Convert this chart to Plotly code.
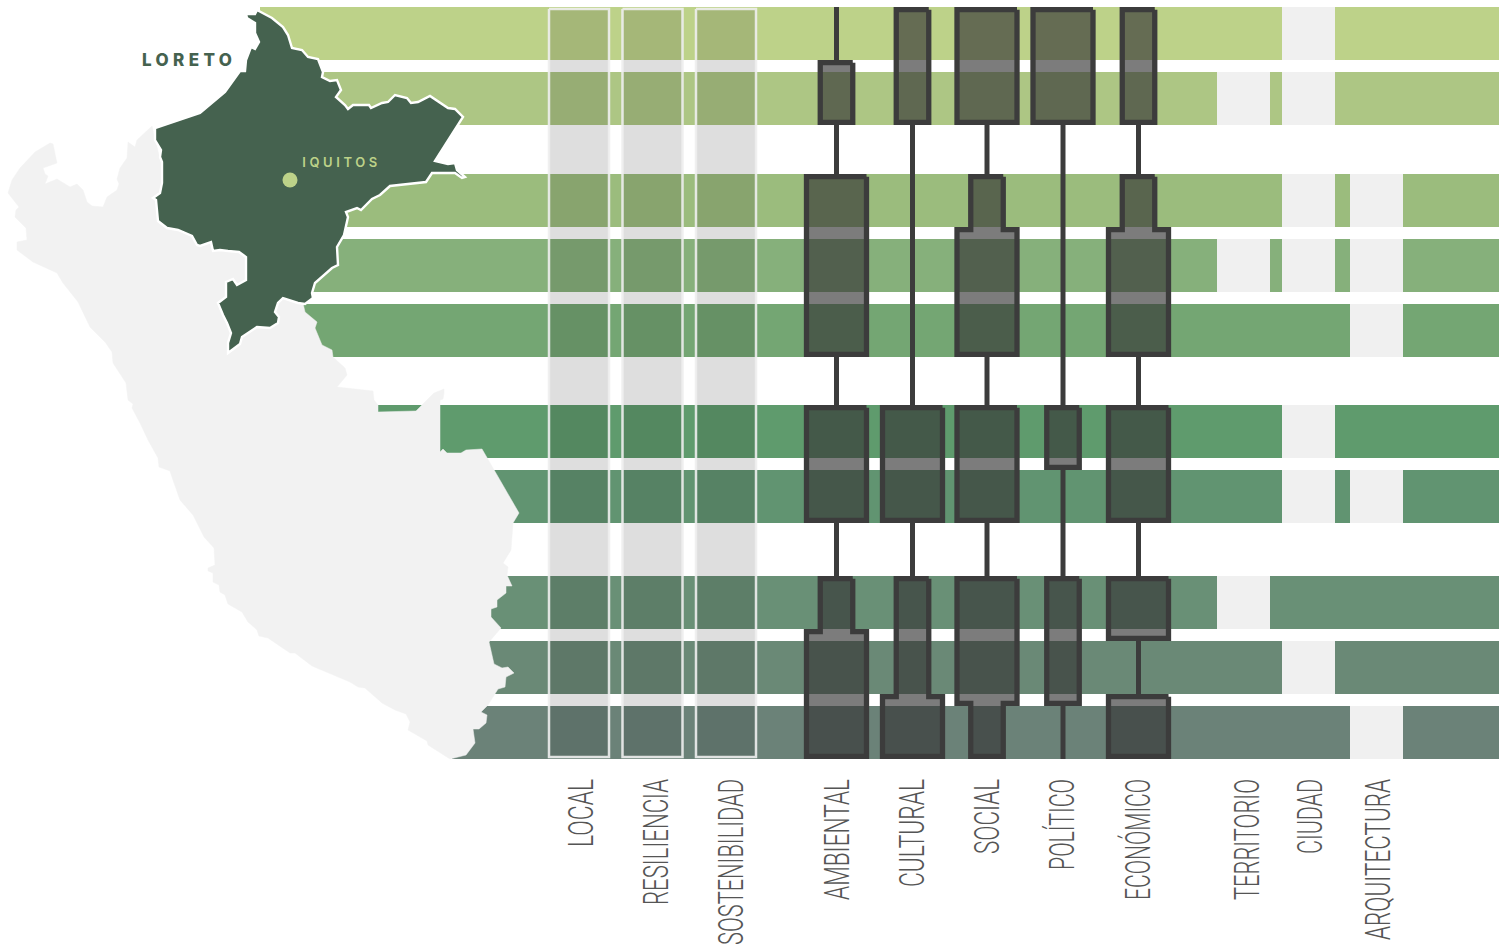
import json
import plotly.graph_objects as go

# ---- data ----
dimensions = ["AMBIENTAL", "CULTURAL", "SOCIAL", "POLÍTICO", "ECONÓMICO"]
# 0 = connector only, 1 = medium, 2 = strong, per row
ambiental = [0, 1, 2, 2, 2, 2, 2, 1, 2, 2]
cultural  = [1, 1, 0, 0, 0, 2, 2, 1, 1, 2]
social    = [2, 2, 1, 2, 2, 2, 2, 2, 2, 1]
politico  = [2, 2, 0, 0, 0, 1, 0, 1, 1, 0]
economico = [1, 1, 1, 2, 2, 2, 2, 2, 0, 2]

# 1 = scale not covered by this row
territorio   = [0, 1, 0, 1, 0, 0, 0, 1, 0, 0]
ciudad       = [1, 1, 1, 1, 0, 1, 1, 0, 1, 0]
arquitectura = [0, 0, 1, 1, 1, 0, 1, 0, 0, 1]

frames = ["LOCAL", "RESILIENCIA", "SOSTENIBILIDAD"]
scales = ["TERRITORIO", "CIUDAD", "ARQUITECTURA"]

peru_x = [8,12,20,35,50,53,57,43,45,48,45,57,70,77,83,87,92,103,107,117,119,117,120,127,128,135,137,152,
          165,230,300,305,317,315,322,332,333,345,347,337,373,374,378,378,416,434,444,444,443,440,440,443,447,461,466,482,
          519,513,511,503,508,507,512,506,506,497,497,491,491,501,489,494,502,508,514,506,505,498,488,481,487,486,479,473,475,466,450,
          428,427,408,410,406,395,382,365,358,350,327,312,295,290,268,259,257,248,242,228,225,220,219,213,213,208,208,215,214,204,193,180,174,170,159,158,148,140,132,133,128,
          126,113,112,105,90,78,63,57,33,17,17,27,26,15,16,19,8]
peru_y = [193,180,168,152,143,144,163,168,174,176,184,179,187,184,190,202,206,207,197,190,184,179,168,158,142,147,140,126,
          180,200,290,312,322,328,345,350,357,368,375,387,391,400,405,412,411,393,389,393,399,400,452,449,453,453,450,449,
          513,523,550,563,567,575,586,586,593,600,607,609,617,628,642,664,668,667,673,677,687,689,705,712,715,723,729,729,743,755,759,
          745,741,730,722,714,710,703,688,687,682,672,666,653,653,638,636,630,622,612,604,595,592,585,582,573,571,568,565,548,537,515,500,483,471,467,458,440,423,408,404,400,
          383,363,352,342,327,302,283,273,262,250,242,240,228,217,210,207,193]

loreto_x = [257,270,272,283,288,292,302,308,318,323,322,330,337,341,336,345,348,353,369,371,382,388,395,407,411,418,430,448,455,463,
            435,448,455,457,465,462,455,432,426,390,380,372,361,357,346,348,344,337,338,332,315,312,313,305,298,283,278,275,279,278,270,257,248,242,240,
            228,228,231,227,223,218,226,226,233,237,246,246,239,228,220,213,211,200,197,192,178,167,158,156,153,160,162,162,160,161,155,155,200,225,240,245,246,251,255,259,255,255,247,246,255,257]
loreto_y = [10,17,18,27,35,48,50,57,59,72,77,81,80,90,97,105,109,105,105,108,103,102,95,98,103,102,96,108,109,117,
            161,164,163,170,177,178,173,173,182,186,195,199,210,208,212,217,235,247,265,268,283,293,298,304,303,298,303,312,317,323,328,327,333,337,344,
            353,343,333,323,315,303,297,282,279,285,280,257,252,251,250,251,242,246,245,236,230,228,221,200,198,193,183,162,157,150,140,128,113,92,71,71,60,47,49,42,33,23,18,14,14,10]

iquitos_x = [290]
iquitos_y = [180]

# ---- layout constants (pixels on the axes) ----
W, H, PLOT_H = 1499, 948, 763
row_top = [7, 72, 174, 239, 304, 405, 470, 576, 641, 706]
ROW_H = 53
row_left = [260, 300, 300, 300, 300, 378, 450, 480, 480, 452]
row_color = ["#BDD289", "#ADC684", "#9BBC7D", "#86B07B", "#74A673",
             "#5F9B6D", "#619471", "#699076", "#6A8976", "#6B8278"]
dim_cx = [836.5, 912.5, 987, 1063, 1138.5]
frame_cx = [579, 652.5, 726]
scale_left = [1217, 1282, 1350]
scale_w = 53
label_x = [581.5, 656.5, 731.5, 837.5, 912.5, 987.5, 1062.5, 1138.5, 1247.5, 1310.5, 1378.5]
label_len = [68, 126, 166, 121, 108, 75, 91, 121, 121, 75, 161]
half = {0: 0, 1: 16.25, 2: 30}
STROKE = 5.3
DARK = "#3C3C3C"
CAPS_FILL = "rgba(53,53,53,0.65)"

fig = go.Figure()

# row bands
centers = [t + ROW_H / 2 for t in row_top]
fig.add_trace(go.Bar(orientation="h", y=centers, base=row_left,
                     x=[W - l for l in row_left], width=ROW_H,
                     marker=dict(color=row_color, line=dict(width=0)), hoverinfo="skip"))

# cut-outs for scales
for name, vals, left in zip(scales, [territorio, ciudad, arquitectura], scale_left):
    ys = [c for c, v in zip(centers, vals) if v]
    fig.add_trace(go.Bar(orientation="h", y=ys, base=[left] * len(ys), x=[scale_w] * len(ys),
                         width=ROW_H, name=name,
                         marker=dict(color="#F0F0F0", line=dict(width=0)), hoverinfo="skip"))

# translucent frames
for name, cx in zip(frames, frame_cx):
    fig.add_trace(go.Scatter(
        x=[cx - 30, cx + 30, cx + 30, cx - 30, cx - 30], y=[9, 9, 757, 757, 9],
        mode="lines", fill="toself", fillcolor="rgba(20,20,20,0.14)", name=name,
        line=dict(color="rgba(238,238,238,0.9)", width=2.5), hoverinfo="skip"))


def spans(levels):
    out = []
    for i, lv in enumerate(levels):
        out.append([row_top[i], row_top[i] + ROW_H, half[lv]])
        if i < len(levels) - 1:
            next_top = row_top[i + 1]
            gap = next_top - (row_top[i] + ROW_H)
            w = max(half[lv], half[levels[i + 1]]) if gap < 20 else 0
            out.append([row_top[i] + ROW_H, next_top, w])
    return out


def draw_dimension(name, cx, levels):
    groups, cur = [], []
    line_x, line_y = [], []
    for s in spans(levels):
        if s[2] == 0:
            if cur:
                groups.append(cur)
                cur = []
            line_x += [cx, cx, None]
            line_y += [s[0], s[1], None]
        else:
            cur.append(s)
    if cur:
        groups.append(cur)
    fig.add_trace(go.Scatter(x=line_x, y=line_y, mode="lines", name=name,
                             line=dict(color=DARK, width=5), hoverinfo="skip"))
    inset = STROKE / 2
    for g in groups:
        rs = [(g[0][0] + inset, g[0][2])]
        for a, b in zip(g, g[1:]):
            if b[2] > a[2]:
                rs.append((a[1] + inset, a[2]))
                rs.append((a[1] + inset, b[2]))
            elif b[2] < a[2]:
                rs.append((a[1] - inset, a[2]))
                rs.append((a[1] - inset, b[2]))
        rs.append((g[-1][1] - inset, g[-1][2]))
        xs = [cx + h for _, h in rs] + [cx - h for _, h in reversed(rs)]
        ys = [y for y, _ in rs] + [y for y, _ in reversed(rs)]
        xs.append(xs[0])
        ys.append(ys[0])
        fig.add_trace(go.Scatter(x=xs, y=ys, mode="lines", fill="toself", fillcolor=CAPS_FILL,
                                 name=name, line=dict(color=DARK, width=STROKE), hoverinfo="skip"))


for name, cx, levels in zip(dimensions, dim_cx, [ambiental, cultural, social, politico, economico]):
    draw_dimension(name, cx, levels)

# map
fig.add_trace(go.Scatter(x=peru_x, y=peru_y, mode="lines", fill="toself", fillcolor="#F2F2F2",
                         line=dict(color="#F2F2F2", width=0.5), name="Perú", hoverinfo="skip"))
fig.add_trace(go.Scatter(x=loreto_x, y=loreto_y, mode="lines", fill="toself", fillcolor="#45624F",
                         line=dict(color="#FFFFFF", width=2.4), name="Loreto", hoverinfo="skip"))
fig.add_trace(go.Scatter(x=iquitos_x, y=iquitos_y, mode="markers", name="Iquitos",
                         marker=dict(color="#BDD289", size=15, line=dict(width=0)), hoverinfo="skip"))

labels = frames + dimensions + scales
fig.update_layout(
    width=W, height=H, autosize=False, showlegend=False, barmode="overlay",
    margin=dict(l=0, r=0, t=0, b=H - PLOT_H, pad=0, autoexpand=False),
    paper_bgcolor="white", plot_bgcolor="white",
    xaxis=dict(range=[0, W], showgrid=False, zeroline=False, showline=False, ticks="",
               automargin=False,
               tickmode="array", tickvals=label_x, ticktext=labels, tickangle=-90,
               ticklabelstandoff=8,
               tickfont=dict(family="Roboto", size=35, color="#555555", weight=300)),
    yaxis=dict(range=[PLOT_H, 0], showgrid=False, zeroline=False, showline=False,
               automargin=False, showticklabels=False, ticks=""),
    annotations=[
        dict(x=187, y=60, text="LORETO", showarrow=False, xanchor="center", yanchor="middle",
             font=dict(family="Inter", size=17, color="#45624F", weight=800)),
        dict(x=339.5, y=162, text="IQUITOS", showarrow=False, xanchor="center", yanchor="middle",
             font=dict(family="Inter", size=13, color="#BDD289", weight=600)),
    ],
)

post = """
document.body.style.margin = '0';
document.documentElement.style.overflow = 'hidden';
var gd = document.querySelector('.plotly-graph-div');
var lens = %s;
gd.querySelectorAll('.xtick text').forEach(function (t) {
  var k = t.textContent;
  if (lens[k]) { t.setAttribute('textLength', lens[k]); t.setAttribute('lengthAdjust', 'spacingAndGlyphs'); }
});
var spread = {LORETO: 90, IQUITOS: 75};
gd.querySelectorAll('.annotation-text').forEach(function (t) {
  var k = t.textContent;
  if (spread[k]) { t.setAttribute('textLength', spread[k]); t.setAttribute('lengthAdjust', 'spacing'); }
});
gd.querySelectorAll('.scatterlayer .js-line').forEach(function (p) {
  p.style.strokeLinejoin = 'miter'; p.style.strokeMiterlimit = '4';
});
""" % json.dumps(dict(zip(labels, label_len)), ensure_ascii=False)
fig.write_html("out.html", post_script=post, config={"displayModeBar": False})
